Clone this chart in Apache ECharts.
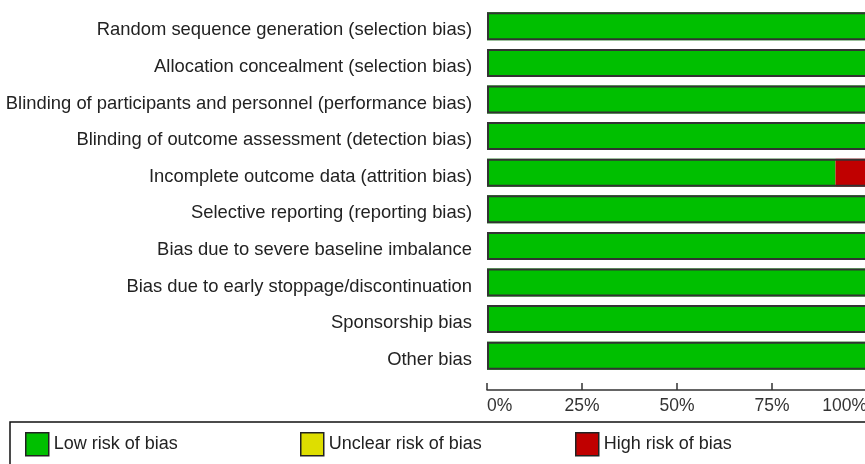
<!DOCTYPE html>
<html>
<head>
<meta charset="utf-8">
<script src="https://cdn.jsdelivr.net/npm/echarts@6/dist/echarts.min.js"></script>
<style>
  html, body { margin: 0; padding: 0; background: #fff; }
  #chart { width: 865px; height: 464px; }
</style>
</head>
<body>
<div id="chart"></div>
<script>
    // risk of bias domains, top to bottom
    const domains = [
        'Random sequence generation (selection bias)',
        'Allocation concealment (selection bias)',
        'Blinding of participants and personnel (performance bias)',
        'Blinding of outcome assessment (detection bias)',
        'Incomplete outcome data (attrition bias)',
        'Selective reporting (reporting bias)',
        'Bias due to severe baseline imbalance',
        'Bias due to early stoppage/discontinuation',
        'Sponsorship bias',
        'Other bias'
    ]
    // percentages
    const lowRisk     = [100, 100, 100, 100, 91.7, 100, 100, 100, 100, 100]
    const unclearRisk = [0, 0, 0, 0, 0, 0, 0, 0, 0, 0]
    const highRisk    = [0, 0, 0, 0, 8.3, 0, 0, 0, 0, 0]
    const xTicks = [0, 25, 50, 75, 100]

    const totals = domains.map((d, i) => lowRisk[i] + unclearRisk[i] + highRisk[i])

    const mChart = echarts.init(document.getElementById('chart'))
    const font = 'Liberation Sans, Arial, sans-serif'

    const legendBase = {
        orient: 'horizontal',
        top: 432,
        padding: 0,
        itemWidth: 23,
        itemHeight: 23,
        icon: 'rect',
        itemStyle: { borderColor: '#222', borderWidth: 1.5 },
        textStyle: { fontFamily: font, fontSize: 18, color: '#222' },
        selectedMode: false
    }

    const option = {
        animation: false,
        backgroundColor: '#fff',
        grid: {
            left: 487,
            right: -2,
            top: 8,
            bottom: 90,
            containLabel: false,
            outerBoundsMode: 'none'
        },
        xAxis: {
            type: 'value',
            min: xTicks[0],
            max: xTicks[xTicks.length - 1],
            interval: 25,
            offset: 16,
            axisLine: { show: true, lineStyle: { color: '#333', width: 1.5 } },
            axisTick: { show: true, inside: true, length: 7, lineStyle: { color: '#333', width: 1.5 } },
            axisLabel: {
                formatter: '{value}%',
                fontFamily: font,
                fontSize: 17.5,
                color: '#333',
                margin: 7,
                alignMinLabel: 'left',
                alignMaxLabel: 'right'
            },
            splitLine: { show: false }
        },
        yAxis: {
            type: 'category',
            inverse: true,
            data: domains,
            axisLine: { show: false },
            axisTick: { show: false },
            axisLabel: {
                margin: 15,
                formatter: v => '{t|' + v + '}',
                rich: {
                    t: {
                        fontFamily: font,
                        fontSize: 18.4,
                        color: '#222',
                        padding: [8, 0, 0, 0]
                    }
                }
            }
        },
        legend: [
            Object.assign({}, legendBase, { left: 25, data: ['Low risk of bias'] }),
            Object.assign({}, legendBase, { left: 300, data: ['Unclear risk of bias'] }),
            Object.assign({}, legendBase, { left: 575, data: ['High risk of bias'] })
        ],
        graphic: [
            {
                type: 'rect',
                shape: { x: 10, y: 422, width: 900, height: 100 },
                style: { fill: 'none', stroke: '#111', lineWidth: 1.5 },
                silent: true
            }
        ],
        series: [
            {
                name: 'Low risk of bias',
                type: 'bar',
                stack: 'rob',
                barWidth: 28,
                itemStyle: { color: '#00bf00' },
                data: lowRisk
            },
            {
                name: 'Unclear risk of bias',
                type: 'bar',
                stack: 'rob',
                barWidth: 28,
                itemStyle: { color: '#dede00' },
                data: unclearRisk
            },
            {
                name: 'High risk of bias',
                type: 'bar',
                stack: 'rob',
                barWidth: 28,
                itemStyle: { color: '#c00000' },
                data: highRisk
            },
            {
                // outline around each whole bar
                name: 'frame',
                type: 'bar',
                barWidth: 28,
                barGap: '-100%',
                silent: true,
                itemStyle: { color: 'rgba(0,0,0,0)', borderColor: '#333', borderWidth: 2 },
                data: totals
            }
        ]
    }
    mChart.setOption(option)
</script>
</body>
</html>
